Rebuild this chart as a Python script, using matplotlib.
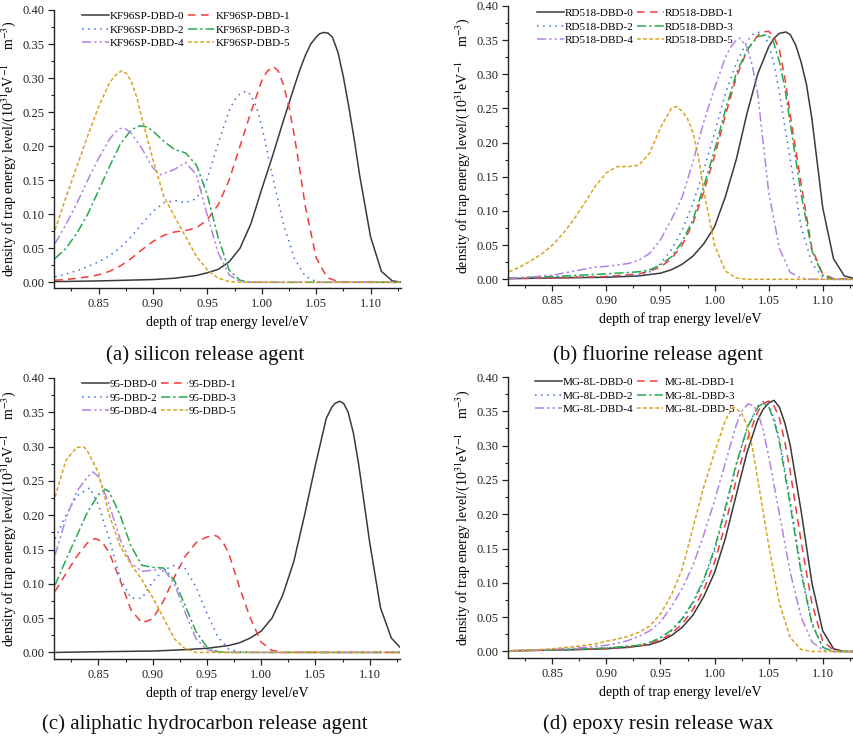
import matplotlib
matplotlib.use("Agg")
import matplotlib.pyplot as plt
from matplotlib.ticker import MultipleLocator, FormatStrFormatter

# ---------------- data ----------------
# (a) silicon release agent
KF96SP_0_x = [0.81, 0.85, 0.90, 0.92, 0.94, 0.95, 0.96, 0.97, 0.98, 0.99, 1.00, 1.01, 1.02, 1.025, 1.03, 1.035, 1.04, 1.045, 1.05, 1.053, 1.057, 1.061, 1.065, 1.07, 1.075, 1.08, 1.085, 1.09, 1.10, 1.11, 1.12, 1.13]
KF96SP_0_y = [0.001, 0.002, 0.004, 0.006, 0.010, 0.014, 0.019, 0.030, 0.050, 0.086, 0.137, 0.186, 0.238, 0.263, 0.288, 0.312, 0.333, 0.350, 0.360, 0.365, 0.367, 0.366, 0.360, 0.338, 0.302, 0.258, 0.210, 0.157, 0.067, 0.016, 0.002, 0.0]
KF96SP_1_x = [0.81, 0.82, 0.83, 0.84, 0.85, 0.86, 0.87, 0.88, 0.89, 0.90, 0.91, 0.92, 0.93, 0.94, 0.95, 0.96, 0.97, 0.98, 0.99, 1.00, 1.005, 1.0105, 1.015, 1.02, 1.025, 1.03, 1.035, 1.04, 1.05, 1.06, 1.07, 1.08, 1.13]
KF96SP_1_y = [0.003, 0.004, 0.006, 0.008, 0.011, 0.016, 0.024, 0.035, 0.048, 0.060, 0.069, 0.074, 0.076, 0.080, 0.092, 0.114, 0.150, 0.200, 0.250, 0.296, 0.310, 0.317, 0.311, 0.290, 0.258, 0.215, 0.165, 0.112, 0.036, 0.007, 0.001, 0.0, 0.0]
KF96SP_2_x = [0.81, 0.82, 0.83, 0.84, 0.85, 0.86, 0.87, 0.88, 0.89, 0.90, 0.91, 0.92, 0.93, 0.94, 0.95, 0.96, 0.97, 0.975, 0.98, 0.986, 0.99, 0.995, 1.00, 1.01, 1.02, 1.03, 1.04, 1.05, 1.06, 1.13]
KF96SP_2_y = [0.008, 0.012, 0.017, 0.023, 0.030, 0.039, 0.051, 0.067, 0.086, 0.104, 0.117, 0.120, 0.117, 0.123, 0.152, 0.205, 0.252, 0.268, 0.277, 0.281, 0.275, 0.258, 0.230, 0.155, 0.085, 0.035, 0.009, 0.001, 0.0, 0.0]
KF96SP_3_x = [0.81, 0.82, 0.83, 0.84, 0.85, 0.86, 0.87, 0.88, 0.888, 0.895, 0.90, 0.91, 0.92, 0.93, 0.94, 0.95, 0.96, 0.97, 0.98, 0.99, 1.13]
KF96SP_3_y = [0.035, 0.050, 0.072, 0.100, 0.135, 0.170, 0.203, 0.224, 0.230, 0.228, 0.222, 0.207, 0.195, 0.190, 0.172, 0.128, 0.065, 0.018, 0.003, 0.0, 0.0]
KF96SP_4_x = [0.81, 0.82, 0.83, 0.84, 0.85, 0.86, 0.865, 0.87, 0.875, 0.88, 0.89, 0.90, 0.907, 0.92, 0.93, 0.94, 0.95, 0.96, 0.97, 0.98, 0.99, 1.13]
KF96SP_4_y = [0.057, 0.085, 0.116, 0.150, 0.182, 0.210, 0.220, 0.226, 0.225, 0.219, 0.196, 0.168, 0.158, 0.166, 0.176, 0.158, 0.098, 0.043, 0.011, 0.001, 0.0, 0.0]
KF96SP_5_x = [0.81, 0.82, 0.83, 0.84, 0.85, 0.86, 0.866, 0.8716, 0.876, 0.88, 0.885, 0.89, 0.90, 0.91, 0.92, 0.93, 0.94, 0.95, 0.96, 0.97, 0.98, 1.13]
KF96SP_5_y = [0.077, 0.125, 0.170, 0.215, 0.258, 0.293, 0.305, 0.311, 0.306, 0.295, 0.272, 0.240, 0.180, 0.126, 0.096, 0.067, 0.038, 0.018, 0.006, 0.001, 0.0, 0.0]

# (b) fluorine release agent
RD518_0_x = [0.81, 0.85, 0.90, 0.93, 0.95, 0.96, 0.97, 0.98, 0.99, 1.00, 1.01, 1.02, 1.03, 1.04, 1.05, 1.055, 1.06, 1.066, 1.07, 1.075, 1.08, 1.085, 1.09, 1.10, 1.11, 1.12, 1.13]
RD518_0_y = [0.001, 0.002, 0.003, 0.005, 0.009, 0.014, 0.022, 0.034, 0.052, 0.077, 0.121, 0.175, 0.243, 0.301, 0.340, 0.353, 0.360, 0.362, 0.358, 0.343, 0.318, 0.285, 0.235, 0.105, 0.030, 0.005, 0.001]
RD518_1_x = [0.81, 0.85, 0.90, 0.93, 0.94, 0.95, 0.96, 0.97, 0.98, 0.99, 1.00, 1.01, 1.02, 1.03, 1.04, 1.045, 1.05, 1.055, 1.06, 1.065, 1.07, 1.08, 1.09, 1.10, 1.11, 1.13]
RD518_1_y = [0.001, 0.002, 0.004, 0.008, 0.012, 0.018, 0.030, 0.050, 0.082, 0.128, 0.180, 0.240, 0.295, 0.335, 0.357, 0.362, 0.363, 0.355, 0.335, 0.295, 0.240, 0.140, 0.045, 0.008, 0.001, 0.0]
RD518_2_x = [0.81, 0.85, 0.90, 0.93, 0.94, 0.95, 0.96, 0.97, 0.98, 0.99, 1.00, 1.01, 1.02, 1.03, 1.035, 1.04, 1.045, 1.05, 1.055, 1.06, 1.07, 1.08, 1.09, 1.10, 1.11, 1.13]
RD518_2_y = [0.002, 0.003, 0.004, 0.006, 0.011, 0.023, 0.043, 0.072, 0.111, 0.160, 0.214, 0.272, 0.316, 0.348, 0.358, 0.362, 0.358, 0.345, 0.315, 0.272, 0.175, 0.077, 0.023, 0.003, 0.0, 0.0]
RD518_3_x = [0.81, 0.85, 0.90, 0.92, 0.93, 0.94, 0.95, 0.96, 0.97, 0.98, 0.99, 1.00, 1.01, 1.02, 1.03, 1.04, 1.048, 1.054, 1.06, 1.065, 1.07, 1.08, 1.09, 1.10, 1.11, 1.13]
RD518_3_y = [0.002, 0.004, 0.008, 0.010, 0.011, 0.014, 0.021, 0.033, 0.055, 0.087, 0.136, 0.189, 0.248, 0.301, 0.336, 0.355, 0.358, 0.350, 0.318, 0.280, 0.228, 0.125, 0.042, 0.006, 0.0, 0.0]
RD518_4_x = [0.81, 0.82, 0.83, 0.84, 0.85, 0.86, 0.87, 0.88, 0.89, 0.90, 0.91, 0.92, 0.93, 0.94, 0.95, 0.96, 0.97, 0.98, 0.99, 1.00, 1.01, 1.015, 1.02, 1.023, 1.03, 1.035, 1.04, 1.05, 1.06, 1.07, 1.08, 1.09, 1.13]
RD518_4_y = [0.0015, 0.002, 0.003, 0.005, 0.006, 0.009, 0.012, 0.015, 0.018, 0.019, 0.021, 0.023, 0.028, 0.038, 0.058, 0.087, 0.120, 0.172, 0.230, 0.280, 0.325, 0.340, 0.350, 0.353, 0.340, 0.312, 0.270, 0.128, 0.045, 0.010, 0.0015, 0.0, 0.0]
RD518_5_x = [0.81, 0.82, 0.83, 0.84, 0.85, 0.86, 0.87, 0.88, 0.89, 0.90, 0.91, 0.92, 0.93, 0.94, 0.95, 0.96, 0.965, 0.97, 0.975, 0.98, 0.985, 0.99, 1.00, 1.01, 1.02, 1.03, 1.13]
RD518_5_y = [0.011, 0.018, 0.027, 0.037, 0.050, 0.067, 0.088, 0.112, 0.137, 0.156, 0.165, 0.165, 0.167, 0.185, 0.222, 0.250, 0.253, 0.246, 0.235, 0.215, 0.180, 0.130, 0.050, 0.012, 0.002, 0.0, 0.0]

# (c) aliphatic hydrocarbon release agent
D95_0_x = [0.81, 0.85, 0.90, 0.93, 0.95, 0.97, 0.98, 0.99, 1.00, 1.01, 1.02, 1.03, 1.04, 1.05, 1.06, 1.065, 1.068, 1.0724, 1.076, 1.08, 1.085, 1.09, 1.10, 1.11, 1.12, 1.13]
D95_0_y = [0.0, 0.001, 0.002, 0.004, 0.006, 0.010, 0.014, 0.021, 0.031, 0.050, 0.084, 0.132, 0.200, 0.273, 0.341, 0.357, 0.363, 0.366, 0.363, 0.351, 0.320, 0.273, 0.161, 0.065, 0.021, 0.004]
D95_1_x = [0.81, 0.82, 0.83, 0.84, 0.847, 0.853, 0.86, 0.87, 0.88, 0.89, 0.90, 0.91, 0.92, 0.93, 0.94, 0.948, 0.9558, 0.96, 0.965, 0.97, 0.98, 0.99, 1.00, 1.01, 1.02, 1.13]
D95_1_y = [0.089, 0.115, 0.140, 0.160, 0.166, 0.162, 0.145, 0.105, 0.062, 0.043, 0.049, 0.075, 0.110, 0.140, 0.160, 0.167, 0.171, 0.169, 0.160, 0.145, 0.095, 0.050, 0.015, 0.003, 0.0, 0.0]
D95_2_x = [0.81, 0.82, 0.83, 0.842, 0.85, 0.86, 0.87, 0.88, 0.89, 0.90, 0.91, 0.92, 0.93, 0.94, 0.95, 0.96, 0.97, 0.98, 0.99, 1.13]
D95_2_y = [0.166, 0.200, 0.228, 0.240, 0.215, 0.165, 0.108, 0.079, 0.079, 0.103, 0.120, 0.127, 0.122, 0.095, 0.057, 0.023, 0.005, 0.001, 0.0, 0.0]
D95_3_x = [0.81, 0.82, 0.83, 0.84, 0.85, 0.856, 0.86, 0.87, 0.88, 0.89, 0.90, 0.91, 0.92, 0.93, 0.94, 0.95, 0.96, 0.97, 1.13]
D95_3_y = [0.098, 0.135, 0.170, 0.205, 0.230, 0.238, 0.234, 0.200, 0.155, 0.127, 0.124, 0.123, 0.105, 0.068, 0.030, 0.008, 0.001, 0.0, 0.0]
D95_4_x = [0.81, 0.82, 0.83, 0.84, 0.845, 0.85, 0.86, 0.87, 0.88, 0.89, 0.90, 0.91, 0.92, 0.93, 0.94, 0.95, 0.96, 1.13]
D95_4_y = [0.142, 0.195, 0.235, 0.256, 0.263, 0.256, 0.215, 0.165, 0.130, 0.118, 0.120, 0.122, 0.100, 0.058, 0.020, 0.004, 0.0, 0.0]
D95_5_x = [0.81, 0.82, 0.83, 0.837, 0.84, 0.85, 0.86, 0.87, 0.88, 0.89, 0.90, 0.91, 0.92, 0.93, 0.94, 1.13]
D95_5_y = [0.227, 0.280, 0.299, 0.299, 0.293, 0.262, 0.200, 0.155, 0.128, 0.106, 0.080, 0.050, 0.020, 0.005, 0.0, 0.0]

# (d) epoxy resin release wax
MG8L_0_x = [0.81, 0.85, 0.88, 0.90, 0.92, 0.93, 0.94, 0.95, 0.96, 0.97, 0.98, 0.99, 1.00, 1.01, 1.02, 1.03, 1.04, 1.045, 1.05, 1.055, 1.06, 1.065, 1.07, 1.08, 1.09, 1.10, 1.11, 1.12, 1.13]
MG8L_0_y = [0.001, 0.002, 0.003, 0.004, 0.006, 0.008, 0.010, 0.015, 0.023, 0.035, 0.053, 0.080, 0.115, 0.165, 0.228, 0.290, 0.338, 0.353, 0.362, 0.366, 0.356, 0.333, 0.300, 0.205, 0.100, 0.030, 0.004, 0.0, 0.0]
MG8L_1_x = [0.81, 0.85, 0.90, 0.93, 0.94, 0.95, 0.96, 0.97, 0.98, 0.99, 1.00, 1.01, 1.02, 1.03, 1.04, 1.045, 1.05, 1.055, 1.06, 1.065, 1.07, 1.08, 1.09, 1.10, 1.11, 1.12, 1.13]
MG8L_1_y = [0.001, 0.002, 0.004, 0.008, 0.011, 0.017, 0.026, 0.040, 0.061, 0.090, 0.130, 0.185, 0.250, 0.308, 0.350, 0.361, 0.365, 0.358, 0.340, 0.305, 0.262, 0.160, 0.070, 0.015, 0.002, 0.0, 0.0]
MG8L_2_x = [0.81, 0.85, 0.90, 0.93, 0.94, 0.95, 0.96, 0.97, 0.98, 0.99, 1.00, 1.01, 1.02, 1.03, 1.04, 1.046, 1.05, 1.055, 1.06, 1.07, 1.08, 1.09, 1.10, 1.11, 1.13]
MG8L_2_y = [0.001, 0.002, 0.005, 0.009, 0.013, 0.020, 0.030, 0.046, 0.070, 0.102, 0.146, 0.205, 0.270, 0.325, 0.358, 0.365, 0.360, 0.340, 0.310, 0.220, 0.120, 0.042, 0.007, 0.0, 0.0]
MG8L_3_x = [0.81, 0.85, 0.90, 0.93, 0.94, 0.95, 0.96, 0.97, 0.98, 0.99, 1.00, 1.01, 1.02, 1.03, 1.04, 1.045, 1.05, 1.055, 1.06, 1.07, 1.08, 1.09, 1.10, 1.11, 1.13]
MG8L_3_y = [0.001, 0.002, 0.005, 0.009, 0.013, 0.020, 0.031, 0.048, 0.072, 0.105, 0.150, 0.210, 0.273, 0.325, 0.356, 0.362, 0.357, 0.336, 0.305, 0.213, 0.115, 0.040, 0.006, 0.0, 0.0]
MG8L_4_x = [0.81, 0.85, 0.88, 0.90, 0.91, 0.92, 0.93, 0.94, 0.95, 0.96, 0.97, 0.98, 0.99, 1.00, 1.01, 1.02, 1.025, 1.031, 1.036, 1.04, 1.045, 1.05, 1.06, 1.07, 1.08, 1.09, 1.10, 1.11, 1.13]
MG8L_4_y = [0.001, 0.003, 0.006, 0.009, 0.012, 0.016, 0.022, 0.030, 0.043, 0.065, 0.092, 0.125, 0.170, 0.220, 0.275, 0.330, 0.350, 0.361, 0.358, 0.348, 0.322, 0.285, 0.200, 0.115, 0.050, 0.014, 0.002, 0.0, 0.0]
MG8L_5_x = [0.81, 0.83, 0.85, 0.87, 0.89, 0.90, 0.91, 0.92, 0.93, 0.94, 0.95, 0.96, 0.97, 0.98, 0.99, 1.00, 1.01, 1.017, 1.02, 1.025, 1.03, 1.035, 1.04, 1.05, 1.06, 1.07, 1.08, 1.09, 1.13]
MG8L_5_y = [0.001, 0.002, 0.004, 0.007, 0.011, 0.015, 0.018, 0.022, 0.028, 0.037, 0.055, 0.082, 0.120, 0.180, 0.240, 0.290, 0.337, 0.356, 0.354, 0.347, 0.330, 0.297, 0.250, 0.155, 0.070, 0.020, 0.003, 0.0, 0.0]

labels_a = ["KF96SP-DBD-0", "KF96SP-DBD-1", "KF96SP-DBD-2", "KF96SP-DBD-3", "KF96SP-DBD-4", "KF96SP-DBD-5"]
labels_b = ["RD518-DBD-0", "RD518-DBD-1", "RD518-DBD-2", "RD518-DBD-3", "RD518-DBD-4", "RD518-DBD-5"]
labels_c = ["95-DBD-0", "95-DBD-1", "95-DBD-2", "95-DBD-3", "95-DBD-4", "95-DBD-5"]
labels_d = ["MG-8L-DBD-0", "MG-8L-DBD-1", "MG-8L-DBD-2", "MG-8L-DBD-3", "MG-8L-DBD-4", "MG-8L-DBD-5"]

captions = ["(a) silicon release agent", "(b) fluorine release agent",
            "(c) aliphatic hydrocarbon release agent", "(d) epoxy resin release wax"]

x_ticks = [0.85, 0.90, 0.95, 1.00, 1.05, 1.10]
y_ticks = [0.00, 0.05, 0.10, 0.15, 0.20, 0.25, 0.30, 0.35, 0.40]

# ---------------- styling ----------------
plt.rcParams['font.family'] = ['Liberation Serif', 'DejaVu Serif']
plt.rcParams['mathtext.fontset'] = 'stix'

colors = ['#3a3a3a', '#f23c3c', '#3b6fdc', '#27a84e', '#b283e4', '#d9a521']
styles = ['-', (0, (5, 3.5)), (0, (1, 3)), (0, (6, 2, 1.5, 2)),
          (0, (6, 2, 1.5, 2, 1.5, 2)), (0, (2.5, 1.5))]
LW = 1.1

W, H = 854, 743
fig = plt.figure(figsize=(W / 100, H / 100), dpi=100)


def px_axes(left, right, top, bottom):
    return fig.add_axes([left / W, 1 - bottom / H, (right - left) / W, (bottom - top) / H])


panels = [
    dict(rect=(54, 401, 10, 288), ylim=(-0.0084, 0.40), labels=labels_a,
         data=[(KF96SP_0_x, KF96SP_0_y), (KF96SP_1_x, KF96SP_1_y), (KF96SP_2_x, KF96SP_2_y),
               (KF96SP_3_x, KF96SP_3_y), (KF96SP_4_x, KF96SP_4_y), (KF96SP_5_x, KF96SP_5_y)],
         leg=(82, 11.5), cap=(205, 355)),
    dict(rect=(508, 853, 6, 285), ylim=(-0.0083, 0.40), labels=labels_b,
         data=[(RD518_0_x, RD518_0_y), (RD518_1_x, RD518_1_y), (RD518_2_x, RD518_2_y),
               (RD518_3_x, RD518_3_y), (RD518_4_x, RD518_4_y), (RD518_5_x, RD518_5_y)],
         leg=(537, 8.5), cap=(658, 355)),
    dict(rect=(54, 400, 378, 659), ylim=(-0.0096, 0.40), labels=labels_c,
         data=[(D95_0_x, D95_0_y), (D95_1_x, D95_1_y), (D95_2_x, D95_2_y),
               (D95_3_x, D95_3_y), (D95_4_x, D95_4_y), (D95_5_x, D95_5_y)],
         leg=(82, 379.5), cap=(205, 724)),
    dict(rect=(508, 853, 377, 658), ylim=(-0.0095, 0.40), labels=labels_d,
         data=[(MG8L_0_x, MG8L_0_y), (MG8L_1_x, MG8L_1_y), (MG8L_2_x, MG8L_2_y),
               (MG8L_3_x, MG8L_3_y), (MG8L_4_x, MG8L_4_y), (MG8L_5_x, MG8L_5_y)],
         leg=(535, 377.5), cap=(658, 724)),
]

for idx, p in enumerate(panels):
    ax = px_axes(*p['rect'])
    handles = []
    for i, (xs, ys) in enumerate(p['data']):
        ln, = ax.plot(xs, ys, color=colors[i], ls=styles[i], lw=LW, label=p['labels'][i],
                      solid_joinstyle='round', dash_joinstyle='round')
        handles.append(ln)
    ax.set_xlim(0.809, 1.128)
    ax.set_ylim(*p['ylim'])
    ax.set_xticks(x_ticks)
    ax.set_yticks(y_ticks)
    ax.xaxis.set_minor_locator(MultipleLocator(0.025))
    ax.yaxis.set_minor_locator(MultipleLocator(0.025))
    ax.xaxis.set_major_formatter(FormatStrFormatter('%.2f'))
    ax.yaxis.set_major_formatter(FormatStrFormatter('%.2f'))
    for s in ['top', 'right']:
        ax.spines[s].set_visible(False)
    for s in ['left', 'bottom']:
        ax.spines[s].set_linewidth(1.0)
        ax.spines[s].set_color('#222222')
    ax.tick_params(which='major', direction='out', length=4, width=0.9, labelsize=9,
                   colors='#222222', pad=3)
    ax.tick_params(which='minor', direction='out', length=2.5, width=0.8, colors='#222222')
    ax.set_xlabel('depth of trap energy level/eV', fontsize=10, labelpad=4)
    ax.set_ylabel(r'density of trap energy level/(10$^{31}$eV$^{-1}$    m$^{-3}$)',
                  fontsize=10, labelpad=3)
    # two columns, filled row-wise: (0,1), (2,3), (4,5)
    col_order = [0, 2, 4, 1, 3, 5]
    lx, ly = p['leg']
    ax.legend([handles[k] for k in col_order], [p['labels'][k] for k in col_order],
              ncol=2, frameon=False, fontsize=8, loc='upper left',
              bbox_to_anchor=(lx / W, 1 - ly / H), bbox_transform=fig.transFigure,
              borderpad=0, borderaxespad=0, handlelength=2.4, handletextpad=0.1,
              columnspacing=0.3, labelspacing=0.32)
    cx, cy = p['cap']
    fig.text(cx / W, 1 - cy / H, captions[idx], fontsize=15,
             ha='center', va='center', color='#111111')

fig.savefig('out.png', dpi=100)
